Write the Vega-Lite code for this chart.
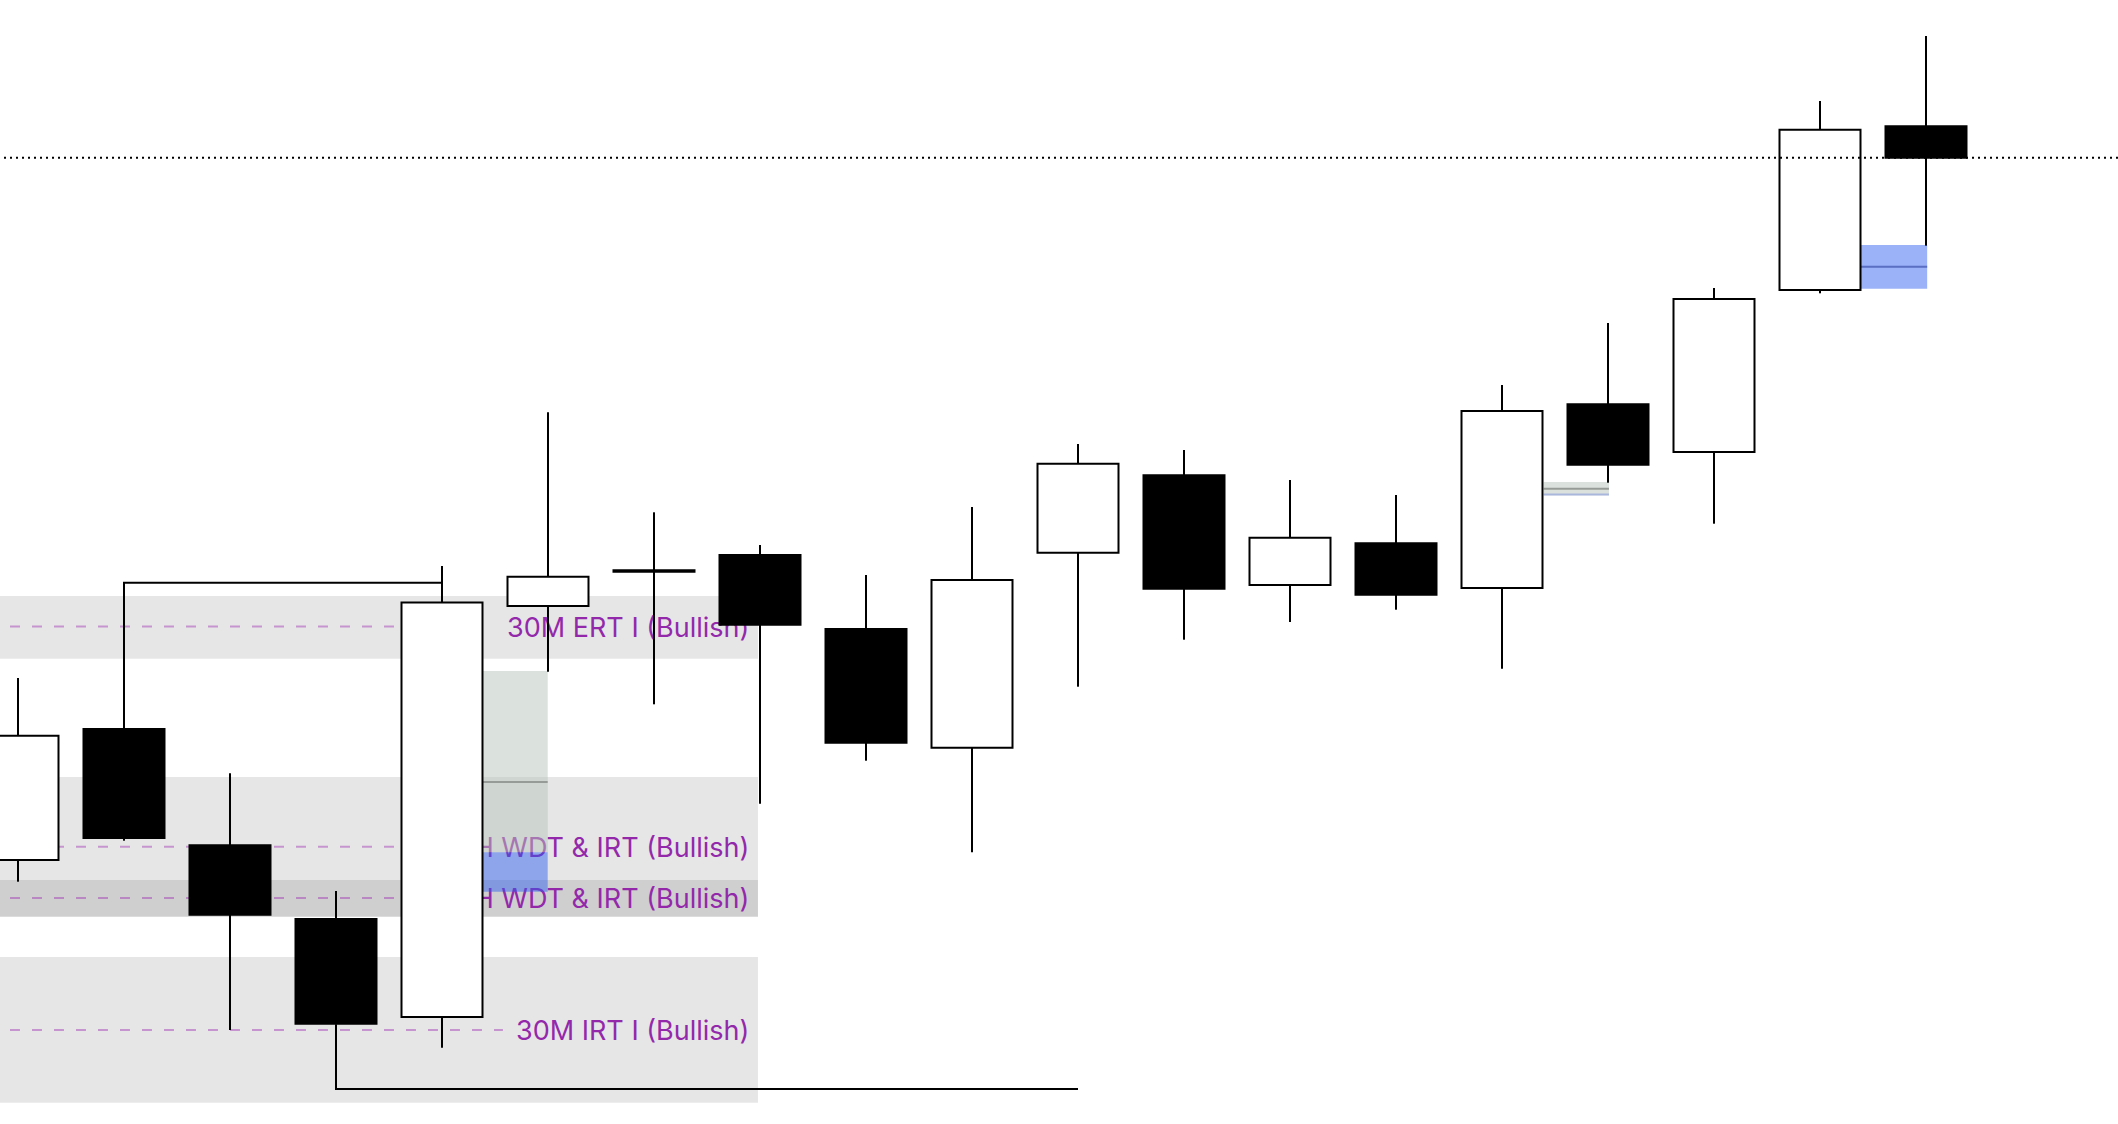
{
  "$schema": "https://vega.github.io/schema/vega-lite/v6.json",
  "width": 2118,
  "height": 1124,
  "autosize": {"type": "none"},
  "padding": 0,
  "background": "#ffffff",
  "config": {"view": {"stroke": null}, "axis": {"disable": true}},
  "datasets": {
    "candles": [
      {"i": 0, "open": 126.4, "high": 144.6, "low": 124.23, "close": 138.83},
      {"i": 1, "open": 139.5, "high": 139.6, "low": 128.33, "close": 128.6},
      {"i": 2, "open": 127.88, "high": 135.07, "low": 109.4, "close": 120.92},
      {"i": 3, "open": 120.5, "high": 123.3, "low": 109.93, "close": 110.03},
      {"i": 4, "open": 110.71, "high": 155.8, "low": 107.63, "close": 152.15},
      {"i": 5, "open": 151.8, "high": 171.17, "low": 145.23, "close": 154.73},
      {"i": 6, "open": 155.23, "high": 161.17, "low": 141.97, "close": 155.37},
      {"i": 7, "open": 156.9, "high": 157.9, "low": 132.03, "close": 149.93},
      {"i": 8, "open": 149.5, "high": 154.9, "low": 136.33, "close": 138.13},
      {"i": 9, "open": 137.63, "high": 161.7, "low": 127.17, "close": 154.4},
      {"i": 10, "open": 157.13, "high": 168.0, "low": 143.73, "close": 166.03},
      {"i": 11, "open": 164.87, "high": 167.4, "low": 148.43, "close": 153.53},
      {"i": 12, "open": 153.9, "high": 164.4, "low": 150.2, "close": 158.63},
      {"i": 13, "open": 158.07, "high": 162.9, "low": 151.43, "close": 152.93},
      {"i": 14, "open": 153.6, "high": 173.9, "low": 145.53, "close": 171.3},
      {"i": 15, "open": 171.97, "high": 180.1, "low": 164.13, "close": 165.93},
      {"i": 16, "open": 167.2, "high": 183.6, "low": 160.03, "close": 182.5},
      {"i": 17, "open": 183.4, "high": 202.3, "low": 183.07, "close": 199.43},
      {"i": 18, "open": 199.77, "high": 208.8, "low": 187.83, "close": 196.63}
    ],
    "bands": [
      {"x0": -0.17, "x1": 6.981, "top": 152.8, "bottom": 146.53},
      {"x0": -0.17, "x1": 6.981, "top": 134.7, "bottom": 120.73},
      {"x0": -0.17, "x1": 6.981, "top": 124.4, "bottom": 120.73},
      {"x0": -0.17, "x1": 6.981, "top": 116.7, "bottom": 102.13}
    ],
    "levels": [
      {"label": "30M ERT I (Bullish)", "price": 149.75, "x0": -0.17, "lineEnd": 4.49, "textEnd": 6.9},
      {"label": "1H WDT & IRT (Bullish)", "price": 127.73, "x0": -0.17, "lineEnd": 4.0, "textEnd": 6.9},
      {"label": "1H WDT & IRT (Bullish)", "price": 122.6, "x0": -0.17, "lineEnd": 4.0, "textEnd": 6.9},
      {"label": "30M IRT I (Bullish)", "price": 109.4, "x0": -0.17, "lineEnd": 4.575, "textEnd": 6.9}
    ],
    "zones": [
      {"kind": "grey", "x0": 4.375, "x1": 4.997, "top": 145.3, "bottom": 127.17},
      {"kind": "blue", "x0": 4.375, "x1": 4.997, "top": 127.17, "bottom": 123.23},
      {"kind": "grey", "x0": 14.393, "x1": 15.009, "top": 164.2, "bottom": 162.87},
      {"kind": "blue", "x0": 17.387, "x1": 18.011, "top": 187.9, "bottom": 183.53}
    ],
    "midlines": [
      {"kind": "grey", "x0": 4.375, "x1": 4.997, "y": 134.2},
      {"kind": "grey", "x0": 14.393, "x1": 15.009, "y": 163.53},
      {"kind": "edge", "x0": 14.393, "x1": 15.009, "y": 162.95},
      {"kind": "blue", "x0": 17.387, "x1": 18.011, "y": 185.73}
    ],
    "brackets": [
      {"id": "high", "seq": 0, "x": 1, "y": 139.6},
      {"id": "high", "seq": 1, "x": 1, "y": 154.13},
      {"id": "high", "seq": 2, "x": 4, "y": 154.13},
      {"id": "low", "seq": 0, "x": 3, "y": 109.93},
      {"id": "low", "seq": 1, "x": 3, "y": 103.5},
      {"id": "low", "seq": 2, "x": 10, "y": 103.5}
    ],
    "current": [{"price": 196.63}]
  },
  "layer": [
    {
      "data": {"name": "bands"},
      "mark": {"type": "rect", "fill": "#000000", "fillOpacity": 0.098},
      "encoding": {
        "x": {"field": "x0", "type": "quantitative", "scale": {"domain": [-0.1698, 19.8113], "nice": false, "zero": false, "padding": 0}},
        "x2": {"field": "x1"},
        "y": {"field": "top", "type": "quantitative", "scale": {"domain": [100, 212.4], "nice": false, "zero": false, "padding": 0}},
        "y2": {"field": "bottom"}
      }
    },
    {
      "data": {"name": "levels"},
      "mark": {"type": "rule", "color": "#9C27B0", "opacity": 0.42, "strokeWidth": 2, "strokeDash": [10, 12], "strokeDashOffset": 12},
      "encoding": {
        "x": {"field": "x0", "type": "quantitative"},
        "x2": {"field": "lineEnd"},
        "y": {"field": "price", "type": "quantitative"}
      }
    },
    {
      "data": {"name": "levels"},
      "mark": {"type": "text", "align": "right", "baseline": "middle", "font": "Inter", "fontSize": 27, "dy": 2, "color": "#9428AB"},
      "encoding": {
        "x": {"field": "textEnd", "type": "quantitative"},
        "y": {"field": "price", "type": "quantitative"},
        "text": {"field": "label"}
      }
    },
    {
      "data": {"name": "zones"},
      "mark": {"type": "rect"},
      "encoding": {
        "x": {"field": "x0", "type": "quantitative"},
        "x2": {"field": "x1"},
        "y": {"field": "top", "type": "quantitative"},
        "y2": {"field": "bottom"},
        "fill": {"field": "kind", "type": "nominal", "scale": {"domain": ["grey", "blue"], "range": ["#B8C4BA", "#2D5BF0"]}, "legend": null},
        "fillOpacity": {"field": "kind", "type": "nominal", "scale": {"domain": ["grey", "blue"], "range": [0.5, 0.48]}, "legend": null}
      }
    },
    {
      "data": {"name": "midlines"},
      "mark": {"type": "rule", "strokeWidth": 2},
      "encoding": {
        "x": {"field": "x0", "type": "quantitative"},
        "x2": {"field": "x1"},
        "y": {"field": "y", "type": "quantitative"},
        "color": {"field": "kind", "type": "nominal", "scale": {"domain": ["grey", "edge", "blue"], "range": ["#979B97", "#A9B7DD", "#5A6EC2"]}, "legend": null}
      }
    },
    {
      "data": {"name": "brackets"},
      "mark": {"type": "line", "color": "#000000", "strokeWidth": 2},
      "encoding": {
        "x": {"field": "x", "type": "quantitative"},
        "y": {"field": "y", "type": "quantitative"},
        "detail": {"field": "id"},
        "order": {"field": "seq", "type": "quantitative"}
      }
    },
    {
      "data": {"name": "candles"},
      "mark": {"type": "rule", "color": "#000000", "strokeWidth": 2},
      "encoding": {
        "x": {"field": "i", "type": "quantitative"},
        "y": {"field": "low", "type": "quantitative"},
        "y2": {"field": "high"}
      }
    },
    {
      "data": {"name": "candles"},
      "mark": {"type": "bar", "size": 81, "stroke": "#000000", "strokeWidth": 2},
      "encoding": {
        "x": {"field": "i", "type": "quantitative"},
        "y": {"field": "open", "type": "quantitative"},
        "y2": {"field": "close"},
        "fill": {"condition": {"test": "datum.close >= datum.open", "value": "#ffffff"}, "value": "#000000"}
      }
    },
    {
      "data": {"name": "current"},
      "mark": {"type": "rule", "color": "#000000", "strokeWidth": 2, "strokeDash": [2, 4]},
      "encoding": {
        "y": {"field": "price", "type": "quantitative"}
      }
    }
  ]
}
